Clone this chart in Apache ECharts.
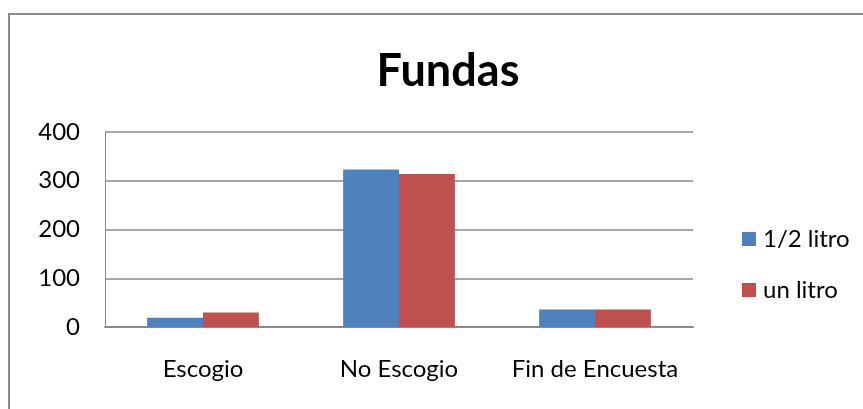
<!DOCTYPE html>
<html>
<head>
<meta charset="utf-8">
<script src="https://cdn.jsdelivr.net/npm/echarts@6/dist/echarts.min.js"></script>
<style>
  html, body { margin: 0; padding: 0; background: #fff; }
  #chart { width: 863px; height: 409px; }
</style>
</head>
<body>
<div id="chart"></div>
<script>
// datos del grafico
const categories = ['Escogio', 'No Escogio', 'Fin de Encuesta'];
const medioLitro = [19, 323, 36];
const unLitro = [30, 314, 36];
const yTicks = { min: 0, max: 400, interval: 100 };

const chart = echarts.init(document.getElementById('chart'));

const option = {
  animation: false,
  backgroundColor: '#fff',
  textStyle: { fontFamily: 'Lato' },
  graphic: [{
    type: 'rect',
    shape: { x: 9, y: 14, width: 900, height: 500 },
    style: { fill: 'none', stroke: '#8c8c8c', lineWidth: 2 },
    silent: true
  }],
  title: {
    text: 'Fundas',
    left: 443,
    textAlign: 'center',
    top: 44,
    textStyle: { fontFamily: 'Lato', fontWeight: 'bold', fontSize: 45, color: '#000' }
  },
  legend: {
    orient: 'vertical',
    left: 737,
    top: 222,
    itemWidth: 14,
    itemHeight: 14,
    itemGap: 27,
    icon: 'rect',
    textStyle: { fontFamily: 'Lato', fontSize: 24, color: '#000', padding: [0, 0, 0, 2] },
    data: ['1/2 litro', 'un litro']
  },
  grid: { left: 105, right: 170, top: 132, bottom: 82 },
  xAxis: {
    type: 'category',
    data: categories,
    axisLine: { lineStyle: { color: '#8a8a8a', width: 2 } },
    axisTick: { show: false },
    axisLabel: { interval: 0, fontFamily: 'Lato', fontSize: 24, color: '#000', margin: 30 }
  },
  yAxis: {
    type: 'value',
    min: yTicks.min,
    max: yTicks.max,
    interval: yTicks.interval,
    axisLine: { show: true, lineStyle: { color: '#8a8a8a', width: 1 } },
    axisTick: { show: false },
    axisLabel: { fontFamily: 'Lato', fontSize: 24, color: '#000', margin: 25 },
    splitLine: { lineStyle: { color: '#8a8a8a', width: 1.5 } }
  },
  series: [
    {
      name: '1/2 litro',
      type: 'bar',
      data: medioLitro,
      barGap: '0%',
      barCategoryGap: '43%',
      itemStyle: { color: '#4F81BD' }
    },
    {
      name: 'un litro',
      type: 'bar',
      data: unLitro,
      itemStyle: { color: '#C0504D' }
    }
  ]
};

chart.setOption(option);
</script>
</body>
</html>
